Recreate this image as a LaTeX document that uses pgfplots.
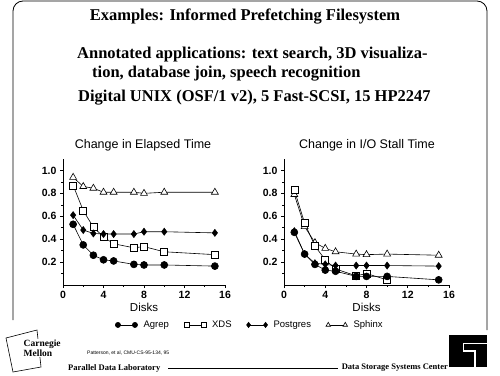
\documentclass[border=0pt]{standalone}
\usepackage{fontspec}
\setmainfont{Liberation Serif}
\setsansfont{Liberation Sans}
\usepackage{pgfplots}
\pgfplotsset{compat=1.18}

\pgfplotsset{slideaxis/.style={
  scale only axis, height=126pt, anchor=south west,
  xmin=0,xmax=16,ymin=0,ymax=1.1,
  axis x line*=bottom, axis y line*=left,
  axis line style={-, line width=0.8pt},
  xtick={0,4,8,12,16}, minor xtick={2,6,10,14},
  ytick={0.2,0.4,0.6,0.8,1.0}, minor ytick={0.1,0.3,0.5,0.7,0.9},
  tick align=outside, major tick length=3pt, minor tick length=2pt,
  tick style={black, line width=0.6pt},
  yticklabel style={/pgf/number format/.cd, fixed, fixed zerofill, precision=1},
  /pgf/number format/assume math mode=true,
  ticklabel style={font=\sffamily\bfseries\fontsize{10.5}{12}\selectfont},
  xlabel={Disks},
  xlabel style={font=\sffamily\fontsize{11.5}{13}\selectfont, yshift=3pt},
  clip=false,
  every axis plot/.append style={black, line width=0.6pt},
  agrep/.style={mark=*, mark size=3.5pt, mark options={fill=black}},
  xds/.style={mark=square*, mark size=3.5pt, mark options={fill=white}},
  postgres/.style={mark=diamond*, mark size=3.5pt, mark options={fill=black}},
  sphinx/.style={mark=triangle*, mark size=4pt, mark options={fill=white}},
}}

\begin{document}
\begin{tikzpicture}
\begin{scope}[x=1pt,y=1pt]
\useasboundingbox (0,0) rectangle (500,375);
% frame
\draw[line width=0.8pt, rounded corners=10pt] (13,55) -- (13,374) -- (487,374) -- (487,45);
% titles
\node[font=\bfseries\fontsize{16.5}{19}\selectfont] at (245,358.3) {Examples: Informed Prefetching Filesystem};
\node[anchor=west, inner sep=0pt, font=\bfseries\fontsize{16.5}{19}\selectfont] at (77,320) {Annotated applications: text search, 3D visualiza-};
\node[anchor=west, inner sep=0pt, font=\bfseries\fontsize{16.5}{19}\selectfont] at (92,301.5) {tion, database join, speech recognition};
\node[anchor=west, inner sep=0pt, font=\bfseries\fontsize{16.5}{19}\selectfont] at (78,277) {Digital UNIX (OSF/1 v2), 5 Fast-SCSI, 15 HP2247};
% plot titles
\node[font=\sffamily\fontsize{12.5}{14}\selectfont] at (143,230) {Change in Elapsed Time};
\node[font=\sffamily\fontsize{12.5}{14}\selectfont] at (367,230) {Change in I/O Stall Time};
% CMU logo
\draw[line width=0.6pt] (6,37) -- (37,45) -- (41,8) -- (13,3) -- cycle;
\node[anchor=west, fill=white, inner sep=0.5pt, font=\bfseries\fontsize{9.5}{10}\selectfont] at (23,31) {Carnegie};
\node[anchor=west, fill=white, inner sep=0.5pt, font=\bfseries\fontsize{9.5}{10}\selectfont] at (23,22) {Mellon};
% citation
\node[anchor=west, inner sep=0pt, font=\sffamily\fontsize{5}{6}\selectfont] at (87,22.4) {Patterson, et al, CMU-CS-95-134, 95};
% footer
\node[anchor=west, inner sep=0pt, font=\bfseries\fontsize{8.5}{10}\selectfont] at (68,7) {Parallel Data Laboratory};
\draw[line width=0.6pt] (168,7) -- (338,7);
\node[anchor=east, inner sep=0pt, font=\bfseries\fontsize{8.5}{10}\selectfont] at (448,7) {Data Storage Systems Center};
% SSC logo
\fill[black] (449,8) rectangle (487,40);
\draw[white, line width=1.5pt] (487,31.7) -- (463.3,31.7) -- (463.3,24) -- (475,24) -- (475,8);
\end{scope}

\begin{axis}[slideaxis, width=162pt, at={(63pt,90pt)},
  legend columns=4,
  legend style={draw=none, fill=none, at={(1.154,-0.317)}, anchor=center,
    font=\sffamily\fontsize{9.5}{11}\selectfont,
    /tikz/every odd column/.append style={column sep=4pt},
    /tikz/every even column/.append style={column sep=13pt}},
  legend image code/.code={\draw[#1, mark size=2.6pt] plot coordinates {(0pt,0pt) (17pt,0pt)};},
]
\addplot[agrep] coordinates {(1,0.53)(2,0.35)(3,0.26)(4,0.22)(5,0.21)(7,0.18)(8,0.175)(10,0.175)(15,0.165)};
\addlegendentry{Agrep}
\addplot[xds] coordinates {(1,0.87)(2,0.65)(3,0.505)(4,0.42)(5,0.36)(7,0.325)(8,0.335)(10,0.29)(15,0.265)};
\addlegendentry{XDS}
\addplot[postgres] coordinates {(1,0.61)(2,0.48)(3,0.45)(4,0.445)(5,0.445)(7,0.445)(8,0.465)(10,0.465)(15,0.455)};
\addlegendentry{Postgres}
\addplot[sphinx] coordinates {(1,0.94)(2,0.86)(3,0.845)(4,0.81)(5,0.81)(7,0.81)(8,0.80)(10,0.81)(15,0.81)};
\addlegendentry{Sphinx}
\end{axis}

\begin{axis}[slideaxis, width=165pt, at={(284pt,90pt)}]
\addplot[sphinx] coordinates {(1,0.79)(2,0.51)(3,0.37)(4,0.32)(5,0.29)(7,0.27)(8,0.265)(10,0.27)(15,0.26)};
\addplot[xds] coordinates {(1,0.83)(2,0.54)(3,0.34)(4,0.22)(5,0.14)(7,0.08)(8,0.10)(10,0.045)};
\addplot[postgres] coordinates {(1,0.47)(2,0.27)(3,0.19)(4,0.18)(5,0.17)(7,0.17)(8,0.17)(10,0.17)(15,0.165)};
\addplot[agrep] coordinates {(1,0.46)(2,0.27)(3,0.18)(4,0.13)(5,0.12)(7,0.075)(8,0.075)(10,0.075)(15,0.045)};
\end{axis}
\end{tikzpicture}
\end{document}
